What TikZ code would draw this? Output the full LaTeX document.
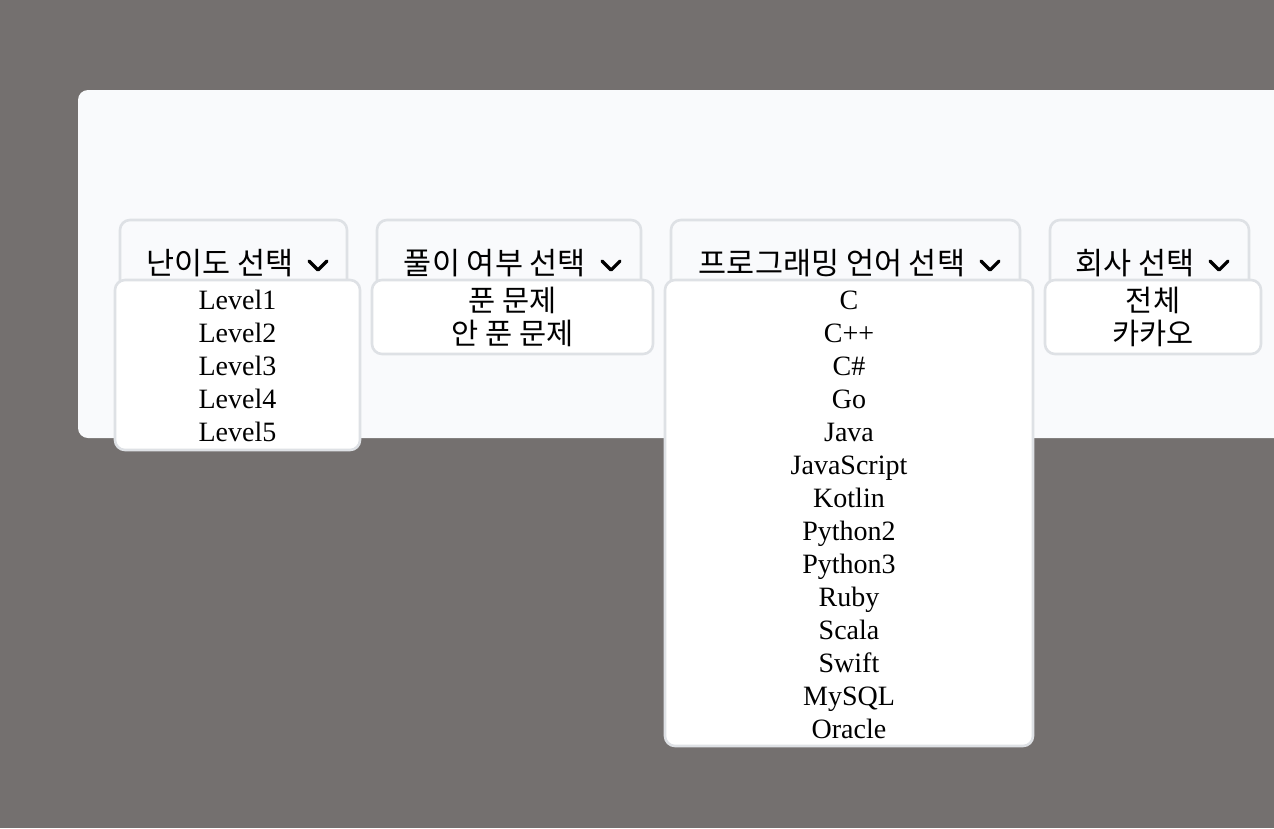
\documentclass[tikz,border=0pt]{standalone}
\usepackage{fontspec}
\setmainfont{Liberation Serif}
\newfontfamily\kr{Noto Sans CJK KR}
\definecolor{bggray}{RGB}{116,112,111}
\definecolor{panelfill}{RGB}{249,250,252}
\definecolor{boxline}{RGB}{222,225,229}
\tikzset{
  hdrbox/.style={draw=boxline, line width=2.6pt, fill=panelfill, rounded corners=10pt},
  dropbox/.style={draw=boxline, line width=2.6pt, fill=white, rounded corners=10pt},
  hdrtxt/.style={inner sep=0pt, anchor=base, font=\kr\fontsize{30.5}{33}\selectfont},
  itemtxt/.style={inner sep=0pt, anchor=base, font=\fontsize{28}{33}\selectfont},
  kitemtxt/.style={inner sep=0pt, anchor=base, font=\kr\fontsize{29.5}{33}\selectfont},
  chev/.style={line width=3.2pt, line cap=round, line join=round}
}
\begin{document}
\begin{tikzpicture}[x=1pt,y=-1pt]
\useasboundingbox (0,0) rectangle (1274,828);
\fill[bggray] (0,0) rectangle (1274,828);
% panel
\fill[panelfill, rounded corners=10pt] (78,90) rectangle (1290,438);
% header boxes
\draw[hdrbox] (120,220) rectangle (347,300);
\draw[hdrbox] (377,220) rectangle (641,300);
\draw[hdrbox] (671,220) rectangle (1020,300);
\draw[hdrbox] (1050,220) rectangle (1249,300);
% header texts
\node[hdrtxt] (h1) at (220,274) {난이도 선택};
\node[hdrtxt] (h2) at (495,274) {풀이 여부 선택};
\node[hdrtxt] (h3) at (832,274) {프로그래밍 언어 선택};
\node[hdrtxt] (h4) at (1135,274) {회사 선택};
% chevrons
\draw[chev] (309,261) -- (318,270) -- (327,261);
\draw[chev] (602,261) -- (611,270) -- (620,261);
\draw[chev] (981,261) -- (990,270) -- (999,261);
\draw[chev] (1210,261) -- (1219,270) -- (1228,261);
% dropdowns
\draw[dropbox] (115,280) rectangle (360,450);
\draw[dropbox] (372,280) rectangle (653,354);
\draw[dropbox] (665,280) rectangle (1033,746);
\draw[dropbox] (1045,280) rectangle (1261,354);
% level items
\foreach \t [count=\i from 0] in {Level1,Level2,Level3,Level4,Level5}
  \node[itemtxt] (lv\i) at (237.5,309+33*\i) {\t};
% solved items
\node[kitemtxt] (s1) at (512.5,311) {푼 문제};
\node[kitemtxt] (s2) at (512.5,344) {안 푼 문제};
% language items
\foreach \t [count=\i from 0] in {C,C++,C\#,Go,Java,JavaScript,Kotlin,Python2,Python3,Ruby,Scala,Swift,MySQL,Oracle}
  \node[itemtxt] (lang\i) at (849,309+33*\i) {\t};
% company items
\node[kitemtxt] (c1) at (1153,311) {전체};
\node[kitemtxt] (c2) at (1153,344) {카카오};
\end{tikzpicture}
\end{document}
